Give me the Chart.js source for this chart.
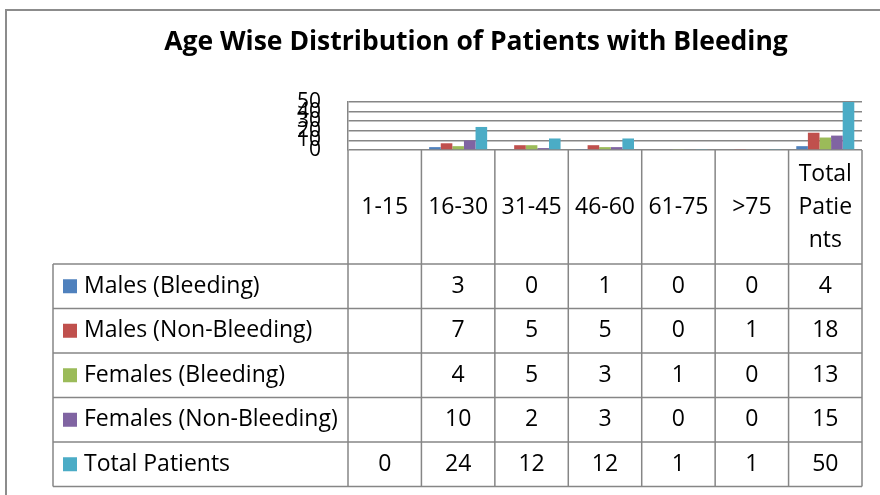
<!DOCTYPE html>
<html><head><meta charset="utf-8">
<script src="https://cdn.jsdelivr.net/npm/chart.js@4/dist/chart.umd.min.js"></script>
<style>html,body{margin:0;padding:0;background:#fff;} canvas{display:block}</style>
</head><body>
<canvas id="c" width="880" height="495"></canvas>
<script>
const chartTitle = 'Age Wise Distribution of Patients with Bleeding';
const categories = ['1-15','16-30','31-45','46-60','61-75','>75','Total Patients'];
const seriesNames = ['Males (Bleeding)','Males (Non-Bleeding)','Females (Bleeding)','Females (Non-Bleeding)','Total Patients'];
const malesBleeding = [null,3,0,1,0,0,4];
const malesNonBleeding = [null,7,5,5,0,1,18];
const femalesBleeding = [null,4,5,3,1,0,13];
const femalesNonBleeding = [null,10,2,3,0,0,15];
const totalPatients = [0,24,12,12,1,1,50];
const yTicks = [0,10,20,30,40,50];
const colors = ['#4F81BD','#C0504D','#9BBB59','#8064A2','#4BACC6'];

const seriesData = [malesBleeding, malesNonBleeding, femalesBleeding, femalesNonBleeding, totalPatients];
const FONT = "'Open Sans', sans-serif";
const GRID = '#868686';

function wrapText(ctx, text, maxW){
  const words = text.split(' '); const lines = []; let cur = '';
  for (const w of words){
    const test = cur ? cur + ' ' + w : w;
    if (ctx.measureText(test).width <= maxW){ cur = test; continue; }
    if (cur){ lines.push(cur); cur = ''; }
    if (ctx.measureText(w).width <= maxW){ cur = w; continue; }
    let piece = '';
    for (const ch of w){
      if (piece && ctx.measureText(piece + ch).width > maxW){ lines.push(piece); piece = ch; }
      else piece += ch;
    }
    cur = piece;
  }
  if (cur) lines.push(cur);
  return lines;
}

const tablePlugin = {
  id: 'dataTable',
  beforeDraw(chart){
    const ctx = chart.ctx;
    ctx.save();
    ctx.fillStyle = '#fff'; ctx.fillRect(0,0,chart.width,chart.height);
    ctx.strokeStyle = '#8c8c8c'; ctx.lineWidth = 2;
    ctx.beginPath(); ctx.moveTo(6, chart.height); ctx.lineTo(6, 10); ctx.lineTo(chart.width, 10); ctx.stroke();
    ctx.fillStyle = '#000'; ctx.font = `bold 26.5px ${FONT}`;
    ctx.textAlign = 'center'; ctx.textBaseline = 'alphabetic';
    ctx.fillText(chartTitle, 476, 50);
    ctx.restore();
  },
  afterDraw(chart){
    const {ctx, chartArea: ca, scales: {x}} = chart;
    const n = categories.length;
    const colW = ca.width / n;
    const headTop = ca.bottom, headBottom = 264, rowH = 44.5;
    const tableBottom = headBottom + rowH * seriesNames.length;
    const legendLeft = 53;
    ctx.save();
    ctx.strokeStyle = GRID; ctx.lineWidth = 1.5;
    ctx.beginPath();
    for (let i = 0; i <= n; i++){
      const xx = i < n ? x.getPixelForValue(i) - colW/2 : x.getPixelForValue(n-1) + colW/2;
      ctx.moveTo(xx, headTop); ctx.lineTo(xx, tableBottom);
    }
    for (let r = 0; r <= seriesNames.length; r++){
      const yy = headBottom + r*rowH;
      ctx.moveTo(legendLeft, yy); ctx.lineTo(ca.right, yy);
    }
    ctx.moveTo(legendLeft, headBottom); ctx.lineTo(legendLeft, tableBottom);
    ctx.stroke();

    ctx.fillStyle = '#000';
    ctx.font = `23px ${FONT}`;
    ctx.textAlign = 'center'; ctx.textBaseline = 'middle';
    const lh = 33;
    categories.forEach((c, i) => {
      const cx = x.getPixelForValue(i);
      const lines = wrapText(ctx, c, colW - 12);
      const cy = (headTop + headBottom)/2;
      lines.forEach((ln, k) => ctx.fillText(ln, cx, cy + (k - (lines.length-1)/2)*lh));
    });
    seriesNames.forEach((name, r) => {
      const cy = headBottom + r*rowH + rowH/2;
      ctx.fillStyle = colors[r];
      ctx.fillRect(63, cy - 7, 14, 14);
      ctx.fillStyle = '#000';
      ctx.textAlign = 'left';
      ctx.fillText(name, 84, cy);
      ctx.textAlign = 'center';
      seriesData[r].forEach((v, i) => {
        if (v === null || v === undefined) return;
        ctx.fillText(String(v), x.getPixelForValue(i), cy);
      });
    });
    ctx.restore();
  }
};

new Chart(document.getElementById('c'), {
  type: 'bar',
  data: {
    labels: categories,
    datasets: seriesNames.map((name, i) => ({
      label: name, data: seriesData[i], backgroundColor: colors[i], borderWidth: 0,
      categoryPercentage: 0.79, barPercentage: 1
    }))
  },
  options: {
    responsive: false, animation: false, devicePixelRatio: 1,
    layout: {padding: {top: 102, right: 18, bottom: 345, left: 0}},
    plugins: {legend: {display: false}, title: {display: false}, tooltip: {enabled: false}},
    scales: {
      x: {display: false},
      y: {
        min: 0, max: 50,
        afterFit(s){ s.width = 348; },
        afterBuildTicks(s){ s.ticks = yTicks.map(v => ({value: v})); },
        ticks: {autoSkip: false, font: {family: FONT, size: 21}, color: '#000', padding: 27},
        grid: {color: GRID, lineWidth: 1.5, drawTicks: false},
        border: {color: GRID, width: 1.5}
      }
    }
  },
  plugins: [tablePlugin]
});
</script>
</body></html>
